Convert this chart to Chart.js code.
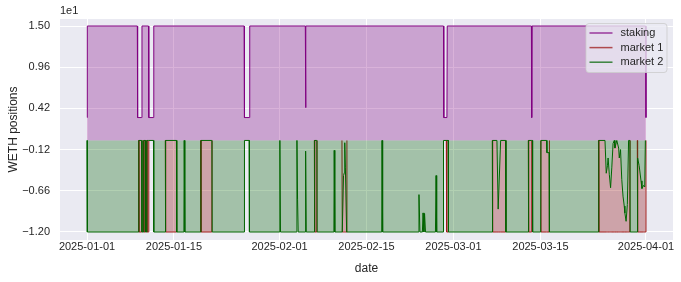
<!DOCTYPE html>
<html>
<head>
<meta charset="utf-8">
<script src="https://cdn.jsdelivr.net/npm/chart.js@4.4.1/dist/chart.umd.min.js"></script>
<style>
html, body { margin: 0; padding: 0; background: #fff; }
canvas { display: block; }
</style>
</head>
<body>
<canvas id="grafico" width="681" height="282"></canvas>
<script>
// asse x: giorni dal 2025-01-01
var xTickDays = [0, 14, 31, 45, 59, 73, 90];
var xTickLabels = ['2025-01-01', '2025-01-15', '2025-02-01', '2025-02-15', '2025-03-01', '2025-03-15', '2025-04-01'];
// asse y: valori veri, etichette in unita 1e1
var yTickVals = [15, 9.6, 4.2, -1.2, -6.6, -12];
var yTickLabels = ['1.50', '0.96', '0.42', '\u22120.12', '\u22120.66', '\u22121.20'];

var stakingDays = [0, 0.05, 8.1, 8.15, 8.8, 8.85, 9.9, 9.95, 10.7, 10.75, 25.3, 25.35, 26.15, 26.2,
    35.15, 35.2, 35.25, 57.4, 57.45, 57.95, 58.0, 71.55, 71.6, 71.65, 89.95, 90.0];
var stakingVals = [3, 15, 15, 3, 3, 15, 15, 3, 3, 15, 15, 3, 3, 15,
    15, 4.3, 15, 15, 3, 3, 15, 15, 3, 15, 15, 3];

var marketDays = [0, 0.05, 8.3, 8.35, 8.8, 8.85, 9.1, 9.15, 9.4, 9.45, 9.6, 9.65, 9.9, 9.95, 10.7, 10.75,
    12.6, 12.65, 14.4, 14.45, 15.6, 15.65, 15.75, 18.3, 18.35, 20.1, 20.15, 25.3, 25.35, 26.1, 26.15,
    31.0, 31.05, 31.15, 33.75, 33.8, 33.9, 34.0, 35.15, 35.2, 35.3, 36.6, 36.65, 37.0, 37.05,
    39.75, 39.8, 39.9, 41.05, 41.1, 41.3, 41.45, 41.5, 41.6, 41.8, 41.85, 47.45, 47.5, 47.6,
    53.35, 53.45, 53.6, 54.0, 54.1, 54.25, 54.35, 54.5, 56.1, 56.2, 56.3, 57.35, 57.4, 57.85, 57.9, 58.15, 58.2,
    65.25, 65.3, 66.0, 66.2, 66.6, 67.4, 67.45, 71.05, 71.1, 71.55, 71.6, 71.7, 71.75,
    73.05, 73.1, 74.0, 74.05, 74.4, 74.45, 82.35, 82.4, 83.4, 83.6, 83.8, 83.9, 84.1, 84.3, 84.5, 84.7, 84.9,
    85.0, 85.3, 85.6, 85.7, 85.9, 86.1, 86.3, 86.5, 86.6, 86.8, 87.0, 87.2, 87.4, 87.45,
    88.6, 88.65, 88.9, 89.2, 89.35, 89.6, 89.8, 89.9, 90.0];
var market1Vals = [0, 0, 0, -12, -12, 0, 0, -12, -12, 0, 0, -12, -12, 0, 0, 0,
    0, -12, -12, 0, 0, 0, 0, 0, -12, -12, 0, 0, 0, 0, 0,
    0, 0, 0, 0, 0, 0, 0, 0, 0, 0, 0, -12, -12, 0,
    0, 0, 0, 0, -12, -12, -12, -12, -12, -12, 0, 0, 0, 0,
    0, 0, 0, 0, 0, 0, 0, 0, 0, 0, 0, 0, 0, 0, -12, -12, 0,
    0, -12, -12, -12, -12, -12, 0, 0, -12, -12, 0, 0, 0,
    0, -12, -12, -12, -12, 0, 0, -12, -12, -12, -12, -12, -12, -12, -12, -12, -12,
    -12, -12, -12, -12, -12, -12, -12, -12, -12, -12, -12, -12, -12, 0,
    0, -12, -12, -12, -12, -12, -12, -12, 0];
var market2Vals = [0, -12, -12, 0, 0, -12, -12, 0, 0, -12, -12, 0, 0, 0, 0, -12,
    -12, 0, 0, -12, -12, 0, -12, -12, 0, 0, -12, -12, 0, 0, -12,
    -12, 0, -12, -12, 0, -7.7, -12, -12, -1.4, -12, -12, 0, 0, -12,
    -12, -1.3, -12, -12, -12, -4.6, -4.2, -0.3, -3.5, -12, -12, -12, 0, -12,
    -12, -7.1, -12, -12, -9.5, -12, -9.6, -12, -12, -4.6, -12, -12, 0, 0, 0, 0, -12,
    -12, 0, 0, -9, 0, 0, -12, -12, 0, 0, 0, 0, -12,
    -12, 0, 0, -1.6, -1.6, -12, -12, 0, 0, -4.3, -3.3, -2.3, -4.5, -6.2, -3.5, -0.4, 0,
    -1, 0, -1, -2.3, -1.2, -5.1, -7.3, -8.6, -9.5, -10.6, -8.4, 0, 0, -12,
    -12, -2.3, -3.3, -5.3, -6.3, -5.9, -6.1, 0, 0];

var seriesNames = ['staking', 'market 1', 'market 2'];
var seriesColors = ['#800080', '#9e1a1a', '#006400'];

var font = '"Liberation Sans", Arial, sans-serif';
var testo = '#262626';

function punti(giorni, valori) {
    return giorni.map(function(g, i) { return {x: g, y: valori[i]}; });
}

// sfondo grigio stile seaborn
var sfondo = {
    id: 'sfondo',
    beforeDraw: function(chart) {
        var a = chart.chartArea;
        chart.ctx.save();
        chart.ctx.fillStyle = '#eaeaf2';
        chart.ctx.fillRect(a.left, a.top, a.right - a.left, a.bottom - a.top);
        chart.ctx.restore();
    }
};

// "1e1" e legenda dentro l'area del grafico
var decorazioni = {
    id: 'decorazioni',
    afterDraw: function(chart) {
        var ctx = chart.ctx;
        var area = chart.chartArea;
        ctx.save();
        ctx.font = '11px ' + font;
        ctx.fillStyle = testo;
        ctx.textBaseline = 'middle';
        ctx.textAlign = 'left';
        ctx.fillText('1e1', area.left, 11);

        var x = area.right - 87, y = area.top + 4.5, w = 81, h = 49, r = 3;
        ctx.beginPath();
        ctx.moveTo(x + r, y);
        ctx.lineTo(x + w - r, y);
        ctx.arcTo(x + w, y, x + w, y + r, r);
        ctx.lineTo(x + w, y + h - r);
        ctx.arcTo(x + w, y + h, x + w - r, y + h, r);
        ctx.lineTo(x + r, y + h);
        ctx.arcTo(x, y + h, x, y + h - r, r);
        ctx.lineTo(x, y + r);
        ctx.arcTo(x, y, x + r, y, r);
        ctx.closePath();
        ctx.fillStyle = 'rgba(234,234,242,0.8)';
        ctx.fill();
        ctx.strokeStyle = 'rgba(204,204,204,0.8)';
        ctx.lineWidth = 1;
        ctx.stroke();

        for (var i = 0; i < seriesNames.length; i++) {
            var ly = y + 9.5 + i * 14.6;
            ctx.beginPath();
            ctx.moveTo(x + 3.5, ly);
            ctx.lineTo(x + 26.5, ly);
            ctx.strokeStyle = seriesColors[i];
            ctx.globalAlpha = 0.75;
            ctx.lineWidth = 1.5;
            ctx.stroke();
            ctx.globalAlpha = 1;
            ctx.fillStyle = testo;
            ctx.fillText(seriesNames[i], x + 34.5, ly);
        }
        ctx.restore();
    }
};

var chart = new Chart(document.getElementById('grafico'), {
    type: 'line',
    data: {
        datasets: [{
            label: seriesNames[0],
            data: punti(stakingDays, stakingVals),
            borderColor: seriesColors[0],
            borderWidth: 1,
            backgroundColor: 'rgba(128,0,128,0.3)',
            fill: 'origin',
            order: 3
        },
        {
            label: seriesNames[1],
            data: punti(marketDays, market1Vals),
            borderColor: seriesColors[1],
            borderWidth: 1,
            fill: {target: 2, above: 'rgba(0,0,0,0)', below: 'rgba(139,0,0,0.3)'},
            segment: {
                borderColor: function(c) {
                    return (c.p0.parsed.y === 0 && c.p1.parsed.y === 0) ? 'rgba(0,0,0,0)' : undefined;
                }
            },
            order: 2
        },
        {
            label: seriesNames[2],
            data: punti(marketDays, market2Vals),
            borderColor: seriesColors[2],
            borderWidth: 1,
            backgroundColor: 'rgba(0,100,0,0.3)',
            fill: 'origin',
            order: 1
        }]
    },
    options: {
        responsive: false,
        animation: false,
        events: [],
        devicePixelRatio: 1,
        elements: { point: { radius: 0 }, line: { tension: 0 } },
        layout: { padding: { left: 0, right: 8, top: 19, bottom: 0 } },
        plugins: {
            legend: { display: false },
            tooltip: { enabled: false }
        },
        scales: {
            x: {
                type: 'linear',
                min: -4.35,
                max: 94.35,
                grid: { color: '#ffffff', lineWidth: 1, drawTicks: false },
                border: { display: false },
                afterBuildTicks: function(scale) {
                    scale.ticks = xTickDays.map(function(v) { return {value: v}; });
                },
                afterFit: function(scale) { scale.height = 42; },
                ticks: {
                    padding: 0,
                    maxRotation: 0,
                    autoSkip: false,
                    color: testo,
                    font: { family: font, size: 11 },
                    callback: function(v) { return xTickLabels[xTickDays.indexOf(v)]; }
                },
                title: {
                    display: true,
                    text: 'date',
                    color: testo,
                    font: { family: font, size: 12 },
                    padding: { top: 0, bottom: 6 }
                }
            },
            y: {
                min: -13.05,
                max: 15.92,
                grid: { color: '#ffffff', lineWidth: 1, drawTicks: false },
                border: { display: false },
                afterBuildTicks: function(scale) {
                    scale.ticks = yTickVals.map(function(v) { return {value: v}; });
                },
                afterFit: function(scale) { scale.width = 60; },
                ticks: {
                    padding: 10,
                    color: testo,
                    font: { family: font, size: 11 },
                    callback: function(v) { return yTickLabels[yTickVals.indexOf(v)]; }
                },
                title: {
                    display: true,
                    text: 'WETH positions',
                    color: testo,
                    font: { family: font, size: 12 },
                    padding: { top: 6, bottom: 0 }
                }
            }
        }
    },
    plugins: [sfondo, decorazioni]
});
</script>
</body>
</html>
